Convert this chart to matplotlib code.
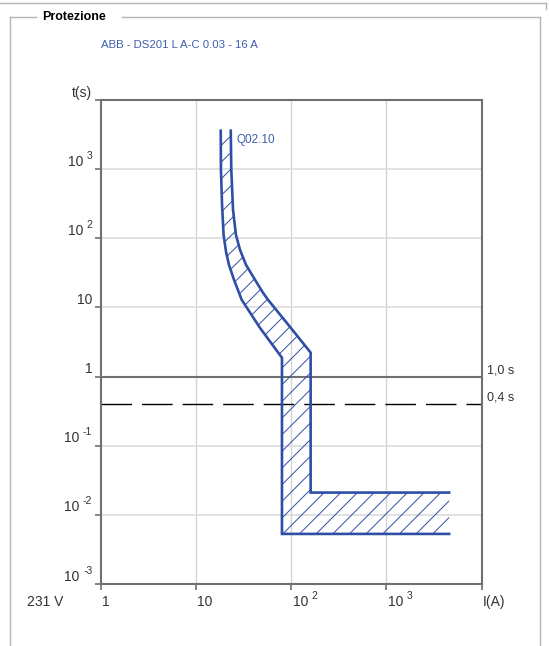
import numpy as np
import matplotlib
matplotlib.use('Agg')
import matplotlib.pyplot as plt
from matplotlib.lines import Line2D
from matplotlib.transforms import offset_copy, Affine2D

plt.rcParams['font.family'] = ['Liberation Sans', 'DejaVu Sans']
plt.rcParams['hatch.linewidth'] = 0.7

# curve values
left_I = [18.2, 18.3, 18.8, 19.5, 20.7, 22.2, 25.1, 30.2, 47.0, 80, 80, 4550]
left_t = [3600, 980, 305, 112, 63.8, 41.4, 25.1, 12.9, 5.07, 1.87, 0.0053, 0.0053]
right_I = [23.2, 23.5, 24.5, 26.3, 29.0, 33.5, 41.7, 50.6, 57.1, 97.1, 160, 160, 4550]
right_t = [3600, 980, 258, 112, 68.2, 41.4, 25.1, 16.3, 12.9, 5.24, 2.22, 0.021, 0.021]

t_ref = [1.0, 0.4]
t_ref_labels = ['1,0 s', '0,4 s']
x_ticks = [1, 10, 100, 1000]
x_labels = [('1', ''), ('10', ''), ('10', '2'), ('10', '3')]
y_ticks = [1e-3, 1e-2, 1e-1, 1, 10, 100, 1000]
y_labels = [('10', '-3'), ('10', '-2'), ('10', '-1'), ('1', ''), ('10', ''),
            ('10', '2'), ('10', '3')]

blue = '#2f4fa6'
tblue = '#3f5eb0'
tcol = '#333333'
W, H = 549, 646
fig = plt.figure(figsize=(W / 100, H / 100), dpi=100)
renderer = fig.canvas.get_renderer()


def fx(x):
    return x / W


def fy(y):
    return 1 - y / H


# frame lines
frame = '#b4b4b4'
for xs, ys in [([0, 546], [3, 3]), ([546, 546], [3, 9]),
               ([10, 36], [17, 17]), ([122, 540], [17, 17]),
               ([10, 10], [17, 646]), ([540, 540], [17, 646])]:
    fig.add_artist(Line2D([fx(v) for v in xs], [fy(v) for v in ys],
                          color=frame, lw=1, transform=fig.transFigure))
fig.text(fx(42), fy(17), 'Protezione', fontsize=9, fontweight='bold',
         va='center', ha='left')
fig.text(fx(101), fy(45), 'ABB - DS201 L A-C 0.03 - 16 A', fontsize=8.2,
         color=tblue, va='center', ha='left')

ax = fig.add_axes([fx(100.7), fy(584), 381 / W, 484 / H])
ax.set_xscale('log')
ax.set_yscale('log')
ax.set_xlim(1, 1e4)
ax.set_ylim(1e-3, 1e4)

for v in [10, 100, 1000]:
    ax.axvline(v, color='#d4d4d4', lw=1, zorder=0)
for v in [1e-3, 1e-2, 1e-1, 10, 100, 1000]:
    ax.axhline(v, color='#dcdcdc', lw=1.2, zorder=0)

ax.axhline(t_ref[0], color='#707070', lw=1.5, zorder=1)
ax.axhline(t_ref[1], color='black', lw=1, dashes=(22, 7.2), zorder=1)

# hatched band
poly_I = left_I + right_I[::-1]
poly_t = left_t + right_t[::-1]
ax.fill(poly_I, poly_t, facecolor='none', edgecolor=blue, lw=0, hatch='//', zorder=2)
ax.plot(left_I, left_t, color=blue, lw=1.9, zorder=3, solid_joinstyle='miter')
ax.plot(right_I, right_t, color=blue, lw=1.9, zorder=3, solid_joinstyle='miter')
ax.text(23.2 * 1.15, 2660, 'Q02.10', color=tblue, fontsize=8.5, va='center', ha='left')

for s in ax.spines.values():
    s.set_color('#707070')
    s.set_linewidth(1.5)

ax.set_xticks(x_ticks + [1e4])
ax.set_xticklabels([])
ax.set_yticks(y_ticks + [1e4])
ax.set_yticklabels([])
ax.minorticks_off()
ax.tick_params(axis='both', direction='out', length=4, width=1.2, color='#707070')


def label(tr, base, sup, ha):
    # base text plus a small raised exponent, measured so that the pair lines up
    if ha == 'right':
        if sup:
            st = ax.text(0, 0, sup, transform=offset_copy(tr, fig=fig, x=0, y=5, units='points'),
                         ha='right', va='baseline', fontsize=7.5, color=tcol)
            w = st.get_window_extent(renderer).width * 72 / 100 + 2.5
        else:
            w = 0
        ax.text(0, 0, base, transform=offset_copy(tr, fig=fig, x=-w, y=0, units='points'),
                ha='right', va='baseline', fontsize=10, color=tcol)
    else:
        bt = ax.text(0, 0, base, transform=tr, ha='left', va='baseline', fontsize=10,
                     color=tcol)
        if sup:
            w = bt.get_window_extent(renderer).width * 72 / 100 + 2.5
            ax.text(0, 0, sup, transform=offset_copy(tr, fig=fig, x=w, y=5, units='points'),
                    ha='left', va='baseline', fontsize=7.5, color=tcol)


for v, (b, s) in zip(y_ticks, y_labels):
    tr = Affine2D().translate(0, v) + offset_copy(ax.get_yaxis_transform(), fig=fig,
                                                  x=-6, y=2.5, units='points')
    label(tr, b, s, 'right')
ax.text(0, 1e4, 't(s)', transform=offset_copy(ax.get_yaxis_transform(), fig=fig,
        x=-6, y=2.5, units='points'), ha='right', va='baseline', fontsize=10, color=tcol)

for v, (b, s) in zip(x_ticks, x_labels):
    tr = Affine2D().translate(v, 0) + offset_copy(ax.get_xaxis_transform(), fig=fig,
                                                  x=1, y=-16, units='points')
    label(tr, b, s, 'left')
ax.text(1e4, 0, 'I(A)', transform=offset_copy(ax.get_xaxis_transform(), fig=fig,
        x=1, y=-16, units='points'), ha='left', va='baseline', fontsize=10, color=tcol)
fig.text(fx(63), fy(584) - 16 / 72 * 100 / H, '231 V', ha='right', va='baseline',
         fontsize=10, color=tcol)

rt = offset_copy(ax.get_yaxis_transform(), fig=fig, x=4, y=2.5, units='points')
for v, lab in zip(t_ref, t_ref_labels):
    ax.text(1, v, lab, transform=rt, ha='left', va='baseline', fontsize=9, color=tcol)

fig.savefig('out.png', dpi=100)
